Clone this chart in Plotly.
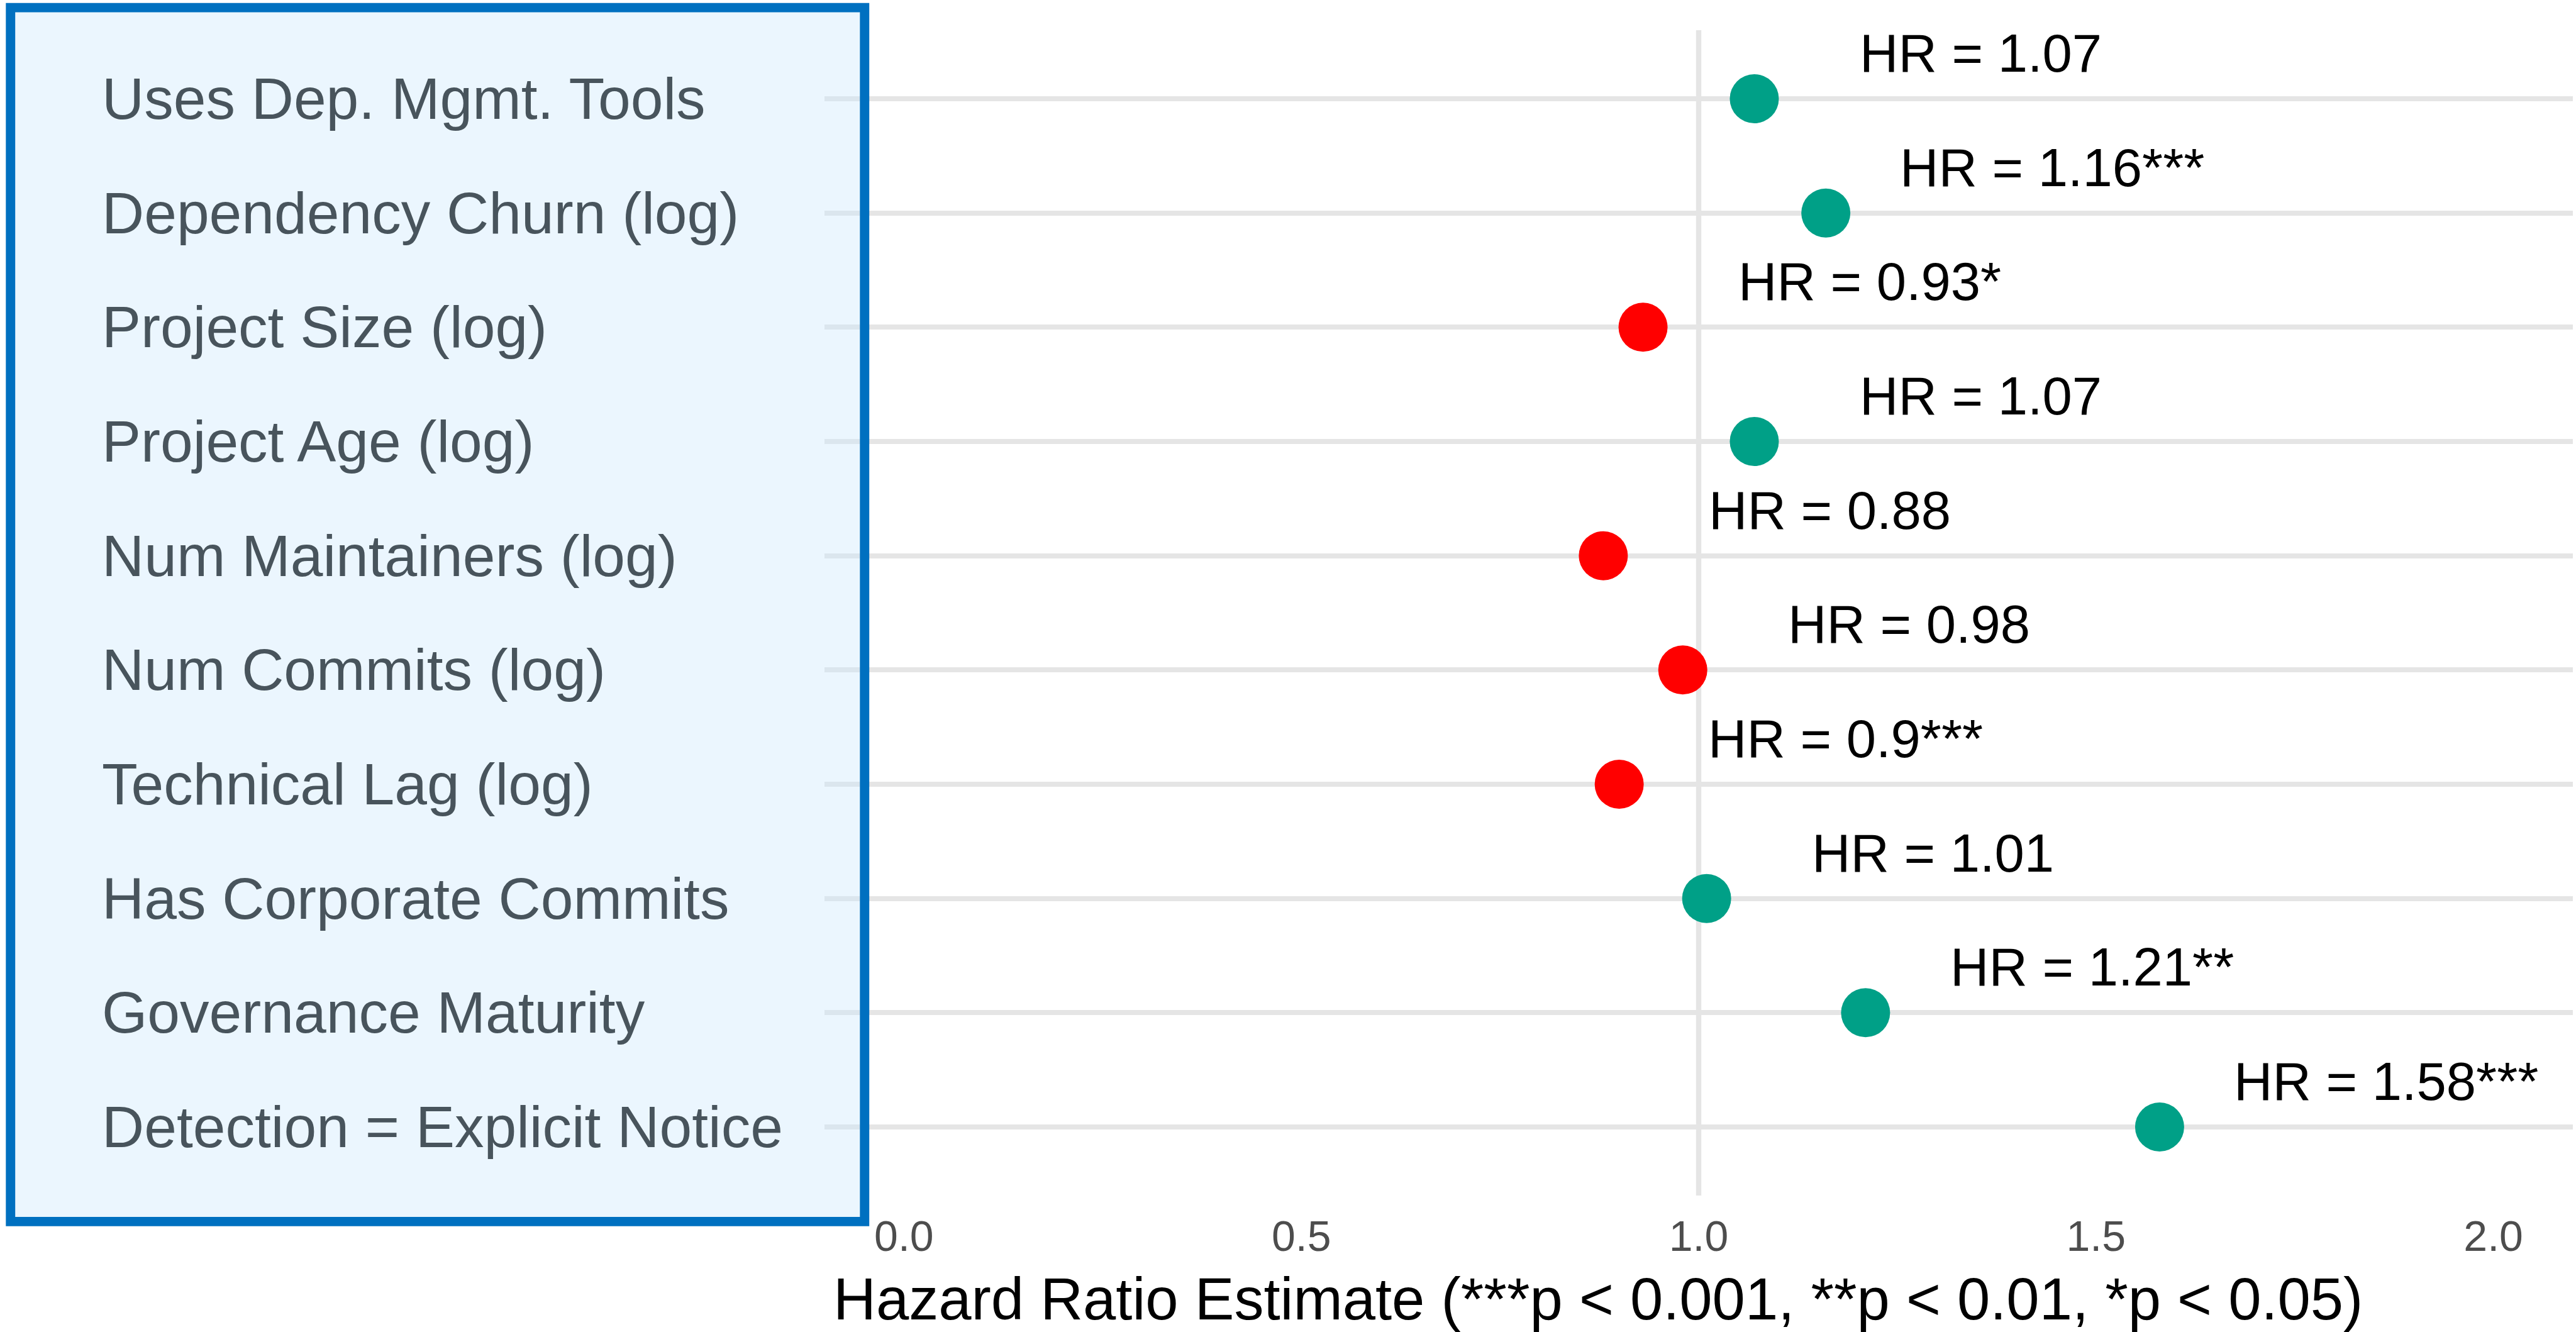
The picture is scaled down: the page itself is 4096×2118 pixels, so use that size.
import plotly.graph_objects as go

# Cox model covariates, top to bottom
variables = [
    "Uses Dep. Mgmt. Tools",
    "Dependency Churn (log)",
    "Project Size (log)",
    "Project Age (log)",
    "Num Maintainers (log)",
    "Num Commits (log)",
    "Technical Lag (log)",
    "Has Corporate Commits",
    "Governance Maturity",
    "Detection = Explicit Notice",
]
hazard_ratios = [1.07, 1.16, 0.93, 1.07, 0.88, 0.98, 0.90, 1.01, 1.21, 1.58]
significance = ["", "***", "*", "", "", "", "***", "", "**", "***"]
x_ticks = [0.0, 0.5, 1.0, 1.5, 2.0]
x_tick_labels = ["0.0", "0.5", "1.0", "1.5", "2.0"]
x_title = "Hazard Ratio Estimate (***p < 0.001, **p < 0.01, *p < 0.05)"

# page geometry (pixels)
W, H = 4096, 2118
L, R, T, B = 1311, 5, 48, 217
PLOT_W = W - L - R
PLOT_H = H - T - B


def px_to_paper_x(px):
    return (px - L) / PLOT_W


def px_to_paper_y(py):
    return (H - B - py) / PLOT_H


FONT = "Liberation Sans, Arial, Helvetica, sans-serif"
TEAL = "#00A087"
RED = "#FF0000"
GRID = "#E5E5E5"

rows = list(range(len(variables)))
colors = [RED if v < 1 else TEAL for v in hazard_ratios]
labels = [f"HR = {round(v, 2):g}{s}" for v, s in zip(hazard_ratios, significance)]

fig = go.Figure()
fig.add_trace(
    go.Scatter(
        x=hazard_ratios,
        y=rows,
        mode="markers",
        marker=dict(size=78, color=colors, line=dict(width=0)),
        hoverinfo="skip",
        showlegend=False,
    )
)

annotations = []
# HR value labels above each point
for v, r, text in zip(hazard_ratios, rows, labels):
    annotations.append(
        dict(
            x=v + 0.285, y=r - 0.40, xref="x", yref="y",
            text=text, showarrow=False, xanchor="center", yanchor="middle",
            font=dict(family=FONT, size=85, color="#000000"),
        )
    )
# left-aligned covariate names inside the panel box
for name, r in zip(variables, rows):
    annotations.append(
        dict(
            x=px_to_paper_x(160), y=r, xref="paper", yref="y",
            text=name, showarrow=False, xanchor="left", yanchor="middle",
            font=dict(family=FONT, size=93, color="#48545C"),
        )
    )
# x-axis title
annotations.append(
    dict(
        x=px_to_paper_x(2541), y=px_to_paper_y(2065), xref="paper", yref="paper",
        text=x_title, showarrow=False, xanchor="center", yanchor="middle",
        font=dict(family=FONT, size=94, color="#000000"),
    )
)

border = 14.9
box_left, box_right, box_top, box_bottom = 9.3, 1382.2, 4.7, 1949.8
shapes = [
    # reference line at HR = 1
    dict(
        type="line", xref="x", yref="paper", x0=1, x1=1, y0=0, y1=1,
        line=dict(color=GRID, width=8.4), layer="below",
    ),
    # framed label panel
    dict(
        type="rect", xref="paper", yref="paper",
        x0=px_to_paper_x(box_left + border / 2),
        x1=px_to_paper_x(box_right - border / 2),
        y0=px_to_paper_y(box_bottom - border / 2),
        y1=px_to_paper_y(box_top + border / 2),
        line=dict(color="#0070C0", width=border),
        fillcolor="rgba(204,232,252,0.4)",
        layer="above",
    ),
]

fig.update_layout(
    width=W, height=H, autosize=False,
    margin=dict(l=L, r=R, t=T, b=B, pad=0),
    paper_bgcolor="#FFFFFF", plot_bgcolor="#FFFFFF",
    font=dict(family=FONT),
    xaxis=dict(
        range=[-0.1, 2.1], showgrid=False, zeroline=False, showline=False,
        tickmode="array", tickvals=x_ticks, ticktext=x_tick_labels,
        ticks="outside", ticklen=5, tickcolor="rgba(0,0,0,0)",
        tickfont=dict(family=FONT, size=68, color="#4D4D4D"),
    ),
    yaxis=dict(
        range=[len(variables) - 0.4, -0.6], showgrid=True, gridcolor=GRID,
        gridwidth=8.4, zeroline=False, showline=False, showticklabels=False,
        tickmode="array", tickvals=rows,
    ),
    annotations=annotations,
    shapes=shapes,
)

fig.write_html("out.html")
